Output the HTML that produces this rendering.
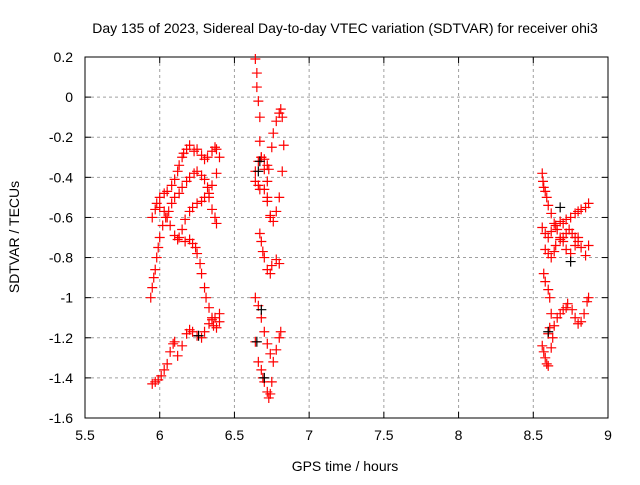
<!DOCTYPE html>
<html><head><meta charset="utf-8"><style>
body{margin:0;background:#fff}
svg text{font-family:"Liberation Sans",sans-serif;font-size:14px;fill:#000}
</style></head><body>
<svg id="chart" width="640" height="480" xmlns="http://www.w3.org/2000/svg">
<g id="grid"></g>
<g id="axes"></g>
<g id="marks"></g>
<text x="345" y="33" text-anchor="middle">Day 135 of 2023, Sidereal Day-to-day VTEC variation (SDTVAR) for receiver ohi3</text>
<text x="345" y="471" text-anchor="middle">GPS time / hours</text>
<text transform="translate(19,237) rotate(-90)" text-anchor="middle">SDTVAR / TECUs</text>
</svg>
<script>
const xTicks=[5.5,6,6.5,7,7.5,8,8.5,9];
const xTickLabels=["5.5","6","6.5","7","7.5","8","8.5","9"];
const yTicks=[0.2,0,-0.2,-0.4,-0.6,-0.8,-1,-1.2,-1.4,-1.6];
const yTickLabels=["0.2","0","-0.2","-0.4","-0.6","-0.8","-1","-1.2","-1.4","-1.6"];
const redX=[5.95,5.97,5.99,6.01,6.03,6.05,6.07,6.09,6.1,6.12,6.15,6.18,6.2,6.22,6.25,6.28,6.3,6.33,6.35,6.37,6.4,
5.94,5.95,5.96,5.97,5.98,5.99,6.0,6.02,6.04,6.06,6.08,6.1,6.13,6.15,6.18,6.2,6.23,6.25,6.28,6.3,6.32,6.33,6.35,6.37,6.38,
5.95,5.97,5.98,6.0,6.03,6.05,6.08,6.1,6.12,6.13,6.15,6.16,6.18,6.2,
6.0,6.03,6.05,6.07,6.1,6.12,6.13,6.15,6.17,6.2,6.22,6.25,6.28,6.3,6.33,6.35,6.38,6.4,
6.17,6.2,6.22,6.24,6.25,6.27,6.28,6.3,6.31,6.33,6.35,6.36,6.38,6.4,
6.23,6.25,6.28,6.3,6.32,6.35,6.37,6.38,
6.64,6.65,6.65,6.66,6.67,6.67,6.68,6.7,6.72,6.72,6.74,
6.64,6.66,6.68,6.7,6.72,6.73,6.75,6.76,6.78,6.8,6.81,6.82,
6.64,6.66,6.67,6.7,6.72,6.74,6.76,6.78,6.8,6.82,6.83,
6.67,6.68,6.69,6.7,6.72,6.74,6.75,6.78,6.8,
6.64,6.66,6.68,6.7,6.72,6.74,6.76,6.78,6.8,6.81,
6.64,6.66,6.68,6.69,6.7,6.72,6.73,6.74,6.75,
8.56,8.565,8.57,8.58,8.59,8.6,8.62,8.64,8.66,8.68,8.7,8.72,8.75,8.78,8.8,
8.56,8.58,8.6,8.62,8.65,8.68,8.7,8.72,8.75,8.78,8.8,8.82,8.85,8.87,
8.58,8.6,8.62,8.64,8.65,8.68,8.7,8.72,8.74,8.76,8.78,8.8,8.82,8.85,8.87,
8.57,8.58,8.6,8.61,8.62,8.61,8.6,
8.56,8.57,8.58,8.59,8.6,8.62,8.63,8.64,8.66,8.68,8.7,8.72,8.73,8.76,8.78,8.8,8.82,8.84,8.86,8.87];
const redY=[-1.43,-1.42,-1.41,-1.39,-1.36,-1.33,-1.27,-1.23,-1.22,-1.29,-1.24,-1.18,-1.16,-1.17,-1.19,-1.2,-1.17,-1.13,-1.11,-1.1,-1.08,
-1.0,-0.95,-0.9,-0.86,-0.8,-0.75,-0.7,-0.64,-0.6,-0.57,-0.53,-0.5,-0.48,-0.45,-0.42,-0.4,-0.38,-0.37,-0.39,-0.41,-0.45,-0.5,-0.56,-0.6,-0.63,
-0.6,-0.56,-0.53,-0.5,-0.48,-0.47,-0.44,-0.41,-0.37,-0.34,-0.3,-0.28,-0.26,-0.24,
-0.55,-0.57,-0.6,-0.64,-0.69,-0.71,-0.7,-0.66,-0.61,-0.57,-0.55,-0.53,-0.52,-0.5,-0.48,-0.44,-0.38,-0.3,
-0.72,-0.71,-0.73,-0.75,-0.78,-0.83,-0.88,-0.95,-1.0,-1.05,-1.1,-1.14,-1.15,-1.12,
-0.27,-0.26,-0.29,-0.31,-0.3,-0.27,-0.25,-0.26,
0.19,0.12,0.05,-0.02,-0.1,-0.22,-0.3,-0.36,-0.42,-0.5,-0.6,
-0.37,-0.32,-0.3,-0.31,-0.34,-0.36,-0.25,-0.18,-0.12,-0.08,-0.06,-0.1,
-0.42,-0.44,-0.46,-0.46,-0.52,-0.59,-0.62,-0.57,-0.5,-0.37,-0.24,
-0.68,-0.72,-0.77,-0.8,-0.86,-0.88,-0.84,-0.81,-0.83,
-1.0,-1.04,-1.1,-1.17,-1.23,-1.28,-1.32,-1.26,-1.2,-1.17,
-1.22,-1.32,-1.36,-1.4,-1.42,-1.47,-1.5,-1.48,-1.42,
-0.38,-0.42,-0.45,-0.47,-0.5,-0.54,-0.58,-0.63,-0.66,-0.7,-0.72,-0.76,-0.78,-0.74,-0.7,
-0.65,-0.68,-0.7,-0.67,-0.64,-0.62,-0.63,-0.61,-0.6,-0.58,-0.57,-0.56,-0.55,-0.53,
-0.76,-0.78,-0.8,-0.77,-0.74,-0.71,-0.7,-0.68,-0.66,-0.68,-0.7,-0.72,-0.75,-0.79,-0.74,
-0.88,-0.92,-0.96,-1.0,-1.08,-1.15,-1.18,
-1.24,-1.27,-1.3,-1.33,-1.34,-1.25,-1.2,-1.14,-1.1,-1.08,-1.06,-1.05,-1.03,-1.06,-1.1,-1.13,-1.12,-1.08,-1.02,-1.0];
const blackX=[6.26,6.66,6.68,6.7,6.65,6.67,8.6,8.68,8.75];
const blackY=[-1.19,-0.37,-1.06,-1.4,-1.22,-0.32,-1.17,-0.55,-0.82];
const L=85,R=608,T=57,B=418;
const xs=v=>L+(v-5.5)/3.5*(R-L);
const ys=v=>T+(0.2-v)/1.8*(B-T);
const NS="http://www.w3.org/2000/svg";
function mk(t,a,p){const e=document.createElementNS(NS,t);for(const k in a)e.setAttribute(k,a[k]);p.appendChild(e);return e;}
const grid=document.getElementById('grid'),axes=document.getElementById('axes'),marks=document.getElementById('marks');
xTicks.forEach((v,i)=>{const x=xs(v);
 if(i>0&&i<xTicks.length-1){const g=mk('line',{x1:x,x2:x,y1:T,y2:B,stroke:'#a0a0a0','stroke-dasharray':'3,3'},grid);
 
 }
 mk('line',{x1:x,x2:x,y1:B,y2:B-6,stroke:'#000'},axes);mk('line',{x1:x,x2:x,y1:T,y2:T+6,stroke:'#000'},axes);
 const t=mk('text',{x:x,y:B+22,'text-anchor':'middle'},axes);t.textContent=xTickLabels[i];
 
 });
yTicks.forEach((v,i)=>{const y=ys(v);
 if(i>0&&i<yTicks.length-1){const g=mk('line',{x1:L,x2:R,y1:y,y2:y,stroke:'#a0a0a0','stroke-dasharray':'3,3'},grid);
 
 }
 mk('line',{x1:L,x2:L+6,y1:y,y2:y,stroke:'#000'},axes);mk('line',{x1:R,x2:R-6,y1:y,y2:y,stroke:'#000'},axes);
 const t=mk('text',{x:L-12,y:y+5,'text-anchor':'end'},axes);t.textContent=yTickLabels[i];
 
 });
mk('rect',{x:L,y:T,width:R-L,height:B-T,fill:'none',stroke:'#000'},axes);
function plus(xv,yv,c,name){const x=xs(xv),y=ys(yv);
 const p=mk('path',{d:`M${x-5},${y}h10M${x},${y-5}v10`,stroke:c,'stroke-width':1.2,fill:'none'},marks);
 
 }
redX.forEach((v,i)=>plus(v,redY[i],'#ff0000','sdtvar-point'));
blackX.forEach((v,i)=>plus(v,blackY[i],'#000','sdtvar-point-black'));
</script>
</body></html>
